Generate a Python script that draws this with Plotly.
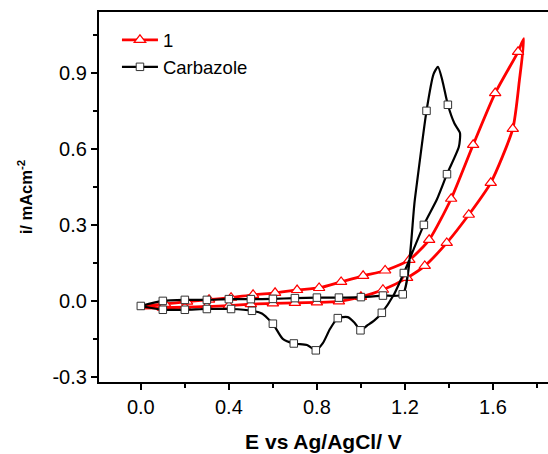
import plotly.graph_objects as go

# ---- Data ----
# Compound 1: forward scan (lower branch) then reverse scan (upper branch)
red_x = [0.00, 0.10, 0.20, 0.30, 0.40, 0.50, 0.60, 0.70, 0.80, 0.90, 1.00, 1.10, 1.21, 1.29, 1.39, 1.49, 1.59, 1.69, 1.72, 1.74,
         1.714, 1.61, 1.51, 1.41, 1.31, 1.22, 1.11, 1.01, 0.91, 0.81, 0.71, 0.61, 0.51, 0.41, 0.31, 0.21, 0.11, 0.00]
red_y = [-0.028, -0.027, -0.025, -0.022, -0.019, -0.013, -0.010, -0.008, -0.006, -0.002, 0.016, 0.044, 0.091, 0.138, 0.229, 0.340, 0.466, 0.679, 0.870, 1.035,
         0.983, 0.820, 0.616, 0.403, 0.241, 0.162, 0.120, 0.099, 0.075, 0.051, 0.043, 0.032, 0.024, 0.013, 0.005, -0.003, -0.012, -0.022]
red_marks = [1, 2, 3, 4, 5, 6, 7, 8, 9, 10, 11, 12, 13, 14, 15, 16, 17,
             20, 21, 22, 23, 24, 25, 26, 27, 28, 29, 30, 31, 32, 33, 34, 35, 36]

# Carbazole
blk_x = [0.00, 0.10, 0.20, 0.30, 0.40, 0.50, 0.60, 0.70, 0.80, 0.90, 1.00, 1.10, 1.19, 1.245, 1.298, 1.33, 1.35, 1.37, 1.395, 1.425, 1.45,
         1.445, 1.391, 1.345, 1.286, 1.195, 1.15, 1.095, 1.06, 1.027, 0.998, 0.97, 0.94, 0.895, 0.86, 0.827, 0.795, 0.755, 0.695, 0.645, 0.60, 0.55, 0.505,
         0.41, 0.30, 0.20, 0.10, 0.01]
blk_y = [-0.020, 0.000, 0.004, 0.004, 0.007, 0.007, 0.008, 0.011, 0.013, 0.013, 0.015, 0.021, 0.026, 0.400, 0.750, 0.895, 0.924, 0.870, 0.774, 0.700, 0.663,
         0.608, 0.500, 0.400, 0.300, 0.110, 0.025, -0.047, -0.078, -0.098, -0.116, -0.085, -0.064, -0.068, -0.110, -0.167, -0.195, -0.174, -0.168, -0.150, -0.090, -0.050, -0.039,
         -0.032, -0.032, -0.035, -0.035, -0.022]
blk_marks = [0, 1, 2, 3, 4, 5, 6, 7, 8, 9, 10, 11, 12, 14, 18, 22, 24, 25, 27, 30, 33, 36, 38, 40, 42, 43, 44, 45, 46]

x_ticks = [0.0, 0.4, 0.8, 1.2, 1.6]
y_ticks = [-0.3, 0.0, 0.3, 0.6, 0.9]

RED = "#ff0000"
BLACK = "#000000"
FONT = "Arial, Liberation Sans, sans-serif"

fig = go.Figure()

# Compound 1
fig.add_trace(go.Scatter(x=red_x, y=red_y, mode="lines", showlegend=False,
                         line=dict(color=RED, width=2.8, shape="spline", smoothing=0.6), hoverinfo="skip"))
fig.add_trace(go.Scatter(x=[red_x[i] for i in red_marks], y=[red_y[i] for i in red_marks], mode="markers",
                         showlegend=False,
                         marker=dict(symbol="triangle-up", size=10, color="white", line=dict(color=RED, width=1.2))))
# Carbazole
fig.add_trace(go.Scatter(x=blk_x, y=blk_y, mode="lines", showlegend=False,
                         line=dict(color=BLACK, width=2.2, shape="spline", smoothing=0.6), hoverinfo="skip"))
fig.add_trace(go.Scatter(x=[blk_x[i] for i in blk_marks], y=[blk_y[i] for i in blk_marks], mode="markers",
                         showlegend=False,
                         marker=dict(symbol="square", size=7.5, color="white", line=dict(color="#333333", width=1))))

# legend entries
fig.add_trace(go.Scatter(x=[None], y=[None], mode="lines+markers", name="1",
                         line=dict(color=RED, width=2.8),
                         marker=dict(symbol="triangle-up", size=10, color="white", line=dict(color=RED, width=1.2))))
fig.add_trace(go.Scatter(x=[None], y=[None], mode="lines+markers", name="Carbazole",
                         line=dict(color=BLACK, width=2.2),
                         marker=dict(symbol="square", size=7.5, color="white", line=dict(color="#333333", width=1))))

fig.update_layout(
    width=548, height=454,
    margin=dict(l=99, r=0, t=12, b=72),
    paper_bgcolor="white", plot_bgcolor="white",
    font=dict(family=FONT, size=20, color="black"),
    showlegend=True,
    legend=dict(x=0.04, y=0.975, xanchor="left", yanchor="top", bgcolor="rgba(0,0,0,0)",
                font=dict(size=18.5), itemwidth=36, tracegroupgap=0),
)

fig.update_xaxes(
    range=[-0.19, 1.85], tickvals=x_ticks, ticktext=[f"{v:.1f}" for v in x_ticks],
    tickfont=dict(size=20),
    showgrid=False, zeroline=False, showline=True, linecolor="black", linewidth=2.2, mirror=True,
    ticks="outside", ticklen=6, tickwidth=2, tickcolor="black",
    minor=dict(tickvals=[0.2, 0.6, 1.0, 1.4, 1.8], ticks="outside", ticklen=4, tickwidth=2, tickcolor="black"),
    title=dict(text="<b>E vs Ag/AgCl/ V</b>", font=dict(size=21), standoff=17),
)
fig.update_yaxes(
    range=[-0.32, 1.14], tickvals=y_ticks, ticktext=[f"{v:.1f}" for v in y_ticks],
    tickfont=dict(size=20),
    showgrid=False, zeroline=False, showline=True, linecolor="black", linewidth=2.2, mirror=False,
    ticks="outside", ticklen=6, tickwidth=2, tickcolor="black",
    minor=dict(tickvals=[-0.15, 0.15, 0.45, 0.75, 1.05], ticks="outside", ticklen=4, tickwidth=2, tickcolor="black"),
    title=dict(text="<b>i/ mAcm<sup>-2</sup></b>", font=dict(size=16.5), standoff=16),
)

fig.write_html("out.html")
